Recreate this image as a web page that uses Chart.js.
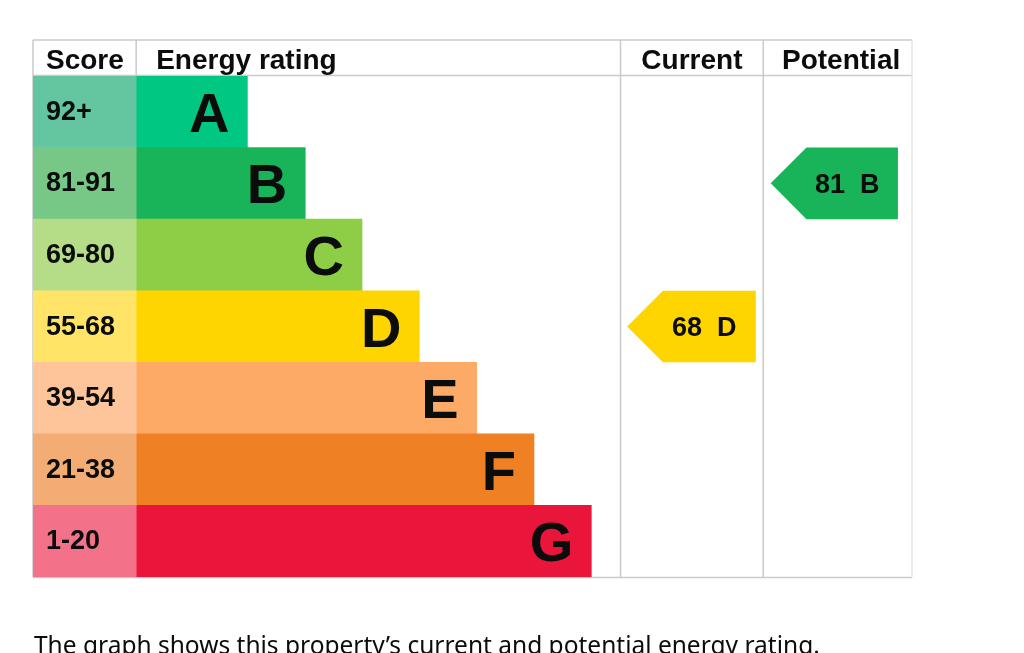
<!DOCTYPE html>
<html>
<head>
<meta charset="utf-8">
<script src="https://cdn.jsdelivr.net/npm/chart.js@4.4.1/dist/chart.umd.min.js"></script>
<style>
html,body{margin:0;padding:0;background:#fff;width:1024px;height:653px;overflow:hidden;}
#wrap{position:absolute;left:0;top:0;width:1024px;height:653px;}
#note{position:absolute;left:34px;top:630px;margin:0;font-family:"Noto Sans","Open Sans",sans-serif;font-size:24.5px;line-height:30px;color:#0b0c0c;white-space:nowrap;}
#warm{position:absolute;left:-999px;top:0;font:bold 28px "Liberation Sans";}
</style>
</head>
<body>
<span id="warm">Score 0123456789 ABCDEFG</span>
<div id="wrap"><canvas id="c" width="1024" height="653"></canvas></div>
<p id="note">The graph shows this property’s current and potential energy rating.</p>
<script>
// ---- data ----
const bands = ['A', 'B', 'C', 'D', 'E', 'F', 'G'];
const scoreRanges = ['92+', '81-91', '69-80', '55-68', '39-54', '21-38', '1-20'];
const bandMinScores = [92, 81, 69, 55, 39, 21, 1];
const bandLengths = [1.94, 2.95, 3.94, 4.94, 5.94, 6.94, 7.94];
const bandColors = ['#00c781', '#19b459', '#8dce46', '#ffd500', '#fcaa65', '#ef8023', '#e9153b'];
const scoreColors = ['#63c6a0', '#77c887', '#b5dd87', '#ffe467', '#fec49a', '#f3ad74', '#f3728a'];
const columnHeaders = ['Score', 'Energy rating', 'Current', 'Potential'];
const currentScore = 68;
const potentialScore = 81;

// ---- layout (scale units) ----
const SCORE_COL = 1.8;           // width of score column
const CUR_COL = [8.45, 10.94];   // current column
const POT_COL = [10.94, 13.535]; // potential column
const CUR_ARROW = [8.565, 10.81];
const POT_ARROW = [11.07, 13.29];

function bandIndexFor(score) {
  for (let i = 0; i < bandMinScores.length; i++) if (score >= bandMinScores[i]) return i;
  return bandMinScores.length - 1;
}
const curIdx = bandIndexFor(currentScore);
const potIdx = bandIndexFor(potentialScore);

const FONT = '"Liberation Sans", Arial, Helvetica, sans-serif';
const INK = '#0b0c0c';
const LINE = '#c9cacb';

const common = { grouped: false, barPercentage: 1, categoryPercentage: 1, borderWidth: 0 };

const tablePlugin = {
  id: 'epcTable',
  beforeDatasetsDraw(chart) {
    const { ctx, chartArea: a, scales: { x } } = chart;
    const top = a.top - 36;
    ctx.save();
    ctx.strokeStyle = LINE;
    ctx.lineWidth = 1.5;
    const h = (y, x0, x1) => { ctx.beginPath(); ctx.moveTo(x0, y); ctx.lineTo(x1, y); ctx.stroke(); };
    const v = (xx, y0, y1) => { ctx.beginPath(); ctx.moveTo(xx, y0); ctx.lineTo(xx, y1); ctx.stroke(); };
    h(top, a.left, a.right);
    h(a.top - 0.5, a.left, a.right);
    h(a.bottom + 0.5, a.left, a.right);
    v(a.left, top, a.bottom);
    v(x.getPixelForValue(0), top, a.top);
    v(x.getPixelForValue(CUR_COL[0]), top, a.bottom);
    v(x.getPixelForValue(CUR_COL[1]), top, a.bottom);
    ctx.strokeStyle = '#e6e6e6';
    v(a.right, top, a.bottom);
    // headers
    ctx.fillStyle = INK;
    ctx.font = 'bold 28px ' + FONT;
    ctx.textBaseline = 'alphabetic';
    ctx.textAlign = 'left';
    ctx.fillText(columnHeaders[0], a.left + 13, a.top - 7);
    ctx.fillText(columnHeaders[1], x.getPixelForValue(0) + 20, a.top - 7);
    ctx.textAlign = 'center';
    ctx.fillText(columnHeaders[2], (x.getPixelForValue(CUR_COL[0]) + x.getPixelForValue(CUR_COL[1])) / 2, a.top - 7);
    ctx.fillText(columnHeaders[3], (x.getPixelForValue(POT_COL[0]) + x.getPixelForValue(POT_COL[1])) / 2 + 3.5, a.top - 7);
    ctx.restore();
  },
  afterDatasetsDraw(chart) {
    const { ctx } = chart;
    ctx.save();
    ctx.fillStyle = INK;
    // score labels
    const scoreMeta = chart.getDatasetMeta(0);
    ctx.font = 'bold 27px ' + FONT;
    ctx.textAlign = 'left';
    ctx.textBaseline = 'alphabetic';
    scoreMeta.data.forEach((el, i) => {
      ctx.fillText(scoreRanges[i], Math.min(el.base, el.x) + 13, el.y + 8);
    });
    // band letters
    const bandMeta = chart.getDatasetMeta(1);
    ctx.font = 'bold 56px ' + FONT;
    ctx.textAlign = 'right';
    bandMeta.data.forEach((el, i) => {
      ctx.fillText(bands[i], Math.max(el.base, el.x) - 18, el.y + 20);
    });
    // arrows
    [2, 3].forEach(di => {
      const ds = chart.data.datasets[di];
      const meta = chart.getDatasetMeta(di);
      const el = meta.data[ds.bandIndex];
      const hh = el.height / 2;
      const left = Math.min(el.base, el.x), right = Math.max(el.base, el.x), cy = el.y;
      ctx.fillStyle = bandColors[ds.bandIndex];
      ctx.beginPath();
      ctx.moveTo(left, cy);
      ctx.lineTo(left + hh, cy - hh);
      ctx.lineTo(right, cy - hh);
      ctx.lineTo(right, cy + hh);
      ctx.lineTo(left + hh, cy + hh);
      ctx.closePath();
      ctx.fill();
      ctx.fillStyle = INK;
      ctx.font = 'bold 27px ' + FONT;
      ctx.textAlign = 'center';
      ctx.fillText(ds.score + '  ' + bands[ds.bandIndex], (left + hh + right) / 2 - 5, cy + 9.5);
    });
    ctx.restore();
  }
};

function draw() {
  new Chart(document.getElementById('c'), {
    type: 'bar',
    data: {
      labels: bands,
      datasets: [
        Object.assign({ label: columnHeaders[0], data: bands.map(() => [-SCORE_COL, 0]), backgroundColor: scoreColors }, common),
        Object.assign({ label: columnHeaders[1], data: bandLengths.map(v => [0, v]), backgroundColor: bandColors }, common),
        Object.assign({ label: columnHeaders[2], score: currentScore, bandIndex: curIdx,
          data: bands.map((b, i) => i === curIdx ? CUR_ARROW : null), backgroundColor: 'rgba(0,0,0,0)' }, common),
        Object.assign({ label: columnHeaders[3], score: potentialScore, bandIndex: potIdx,
          data: bands.map((b, i) => i === potIdx ? POT_ARROW : null), backgroundColor: 'rgba(0,0,0,0)' }, common)
      ]
    },
    options: {
      indexAxis: 'y',
      responsive: false,
      animation: false,
      layout: { padding: { left: 33, right: 112, top: 76, bottom: 76 } },
      scales: {
        x: { type: 'linear', min: -SCORE_COL, max: POT_COL[1], display: false },
        y: { display: false }
      },
      plugins: { legend: { display: false }, tooltip: { enabled: false } }
    },
    plugins: [tablePlugin]
  });
}

if (document.fonts && document.fonts.load) {
  Promise.all([
    document.fonts.load('bold 28px "Liberation Sans"'),
    document.fonts.load('bold 56px "Liberation Sans"')
  ]).then(draw, draw);
} else {
  draw();
}
</script>
</body>
</html>
